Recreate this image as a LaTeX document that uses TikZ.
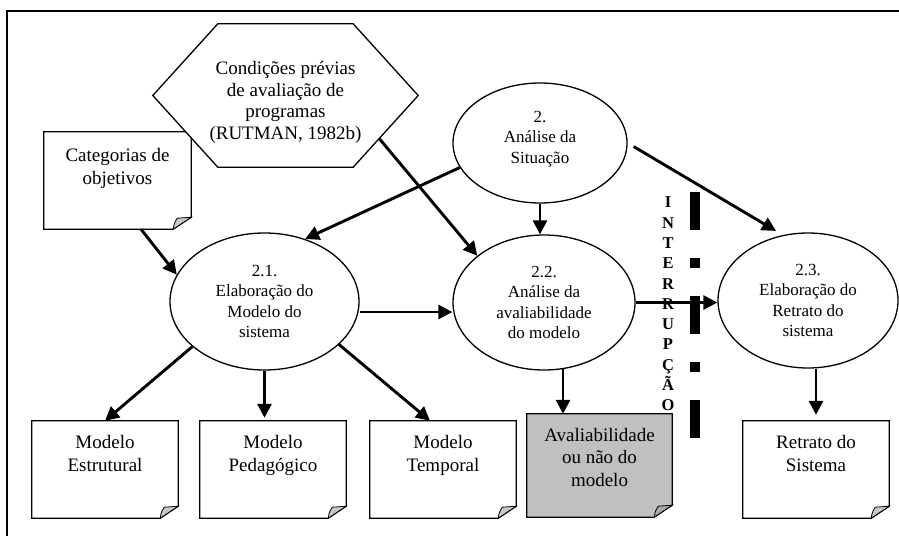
\documentclass[tikz,border=0pt]{standalone}
\usepackage{fontspec}
\setmainfont{Liberation Serif}
\usetikzlibrary{arrows.meta,shapes.geometric,calc}

\definecolor{flapgray}{HTML}{C8C8C8}
\definecolor{boxgray}{HTML}{C0C0C0}
\definecolor{flapdark}{HTML}{A8A8A8}

\tikzset{
  ell/.style={ellipse, draw, line width=1.3pt, fill=white, inner sep=0pt, align=center,
              font=\fontsize{17}{20.5}\selectfont},
  docbox/.style={rectangle, draw=none, inner sep=0pt, minimum width=146pt, minimum height=97pt},
  doctext/.style={anchor=north, inner sep=0pt, align=center, font=\fontsize{19}{23.5}\selectfont},
  arr/.style={line width=2.9pt, -{Triangle[length=14pt,width=14pt]}},
  outline/.style={line width=1.3pt, line join=miter},
}

% document shape with a folded lower-right corner
\newcommand{\foldeddoc}[3]{%
  \draw[outline, fill=#2] (#1.north west) -- (#1.north east) -- ([yshift=12pt]#1.south east)
     -- ([xshift=-18pt]#1.south east) -- (#1.south west) -- cycle;
  \draw[outline, line width=0.8pt, fill=#3] ([xshift=-18pt]#1.south east)
     .. controls ([xshift=-17pt,yshift=6pt]#1.south east) .. ([xshift=-14pt,yshift=11pt]#1.south east)
     -- ([yshift=12pt]#1.south east) -- cycle;
}

\begin{document}
\begin{tikzpicture}[x=1pt,y=-1pt]
\useasboundingbox (0,0) rectangle (899,536);

% frame
\draw[line width=2pt] (899,11) -- (7,11) -- (7,536);

% objectives box
\node[docbox, minimum width=147pt] (cat) at (117.5,180.5) {};
\foldeddoc{cat}{white}{flapgray}
\node[doctext] (catT) at ([yshift=-16pt]cat.north) {Categorias de\\objetivos};

% preconditions hexagon
\node[draw=none, inner sep=0pt, minimum width=265pt, minimum height=143pt] (hex) at (285.5,95.5) {};
\draw[outline, fill=white] (hex.west) -- ([xshift=65pt]hex.north west) -- ([xshift=-65pt]hex.north east)
  -- (hex.east) -- ([xshift=-65pt]hex.south east) -- ([xshift=65pt]hex.south west) -- cycle;
\node[inner sep=0pt, align=center, font=\fontsize{19}{21.5}\selectfont] (hexT) at ([yshift=-7pt]hex.center)
  {Condições prévias\\de avaliação de\\programas\\(RUTMAN, 1982b)};
\coordinate (hexout) at ($(hex.east)!0.6!([xshift=-65pt]hex.south east)$);

% process ellipses
\node[ell, minimum width=174pt, minimum height=120pt] (e2) at (540,143) {};
\node[inner sep=0pt, align=center, font=\fontsize{17}{20.5}\selectfont] (e2T) at ([yshift=4pt]e2.center) {2.\\Análise da\\Situação};
\node[ell, minimum width=189pt, minimum height=137pt] (e21) at (264.5,301.5) {2.1.\\Elaboração do\\Modelo do\\sistema};
\node[ell, minimum width=182pt, minimum height=135pt] (e22) at (544,302.5) {2.2.\\Análise da\\avaliabilidade\\do modelo};
\node[ell, minimum width=180pt, minimum height=135pt] (e23) at (808,300.5) {2.3.\\Elaboração do\\Retrato do\\sistema};

% output documents
\node[docbox] (est) at (105,469.5) {};
\foldeddoc{est}{white}{flapgray}
\node[doctext] (estT) at ([yshift=-14pt]est.north) {Modelo\\Estrutural};

\node[docbox] (ped) at (273,469.5) {};
\foldeddoc{ped}{white}{flapgray}
\node[doctext] (pedT) at ([yshift=-14pt]ped.north) {Modelo\\Pedagógico};

\node[docbox] (tmp) at (443,469.5) {};
\foldeddoc{tmp}{white}{flapgray}
\node[doctext] (tmpT) at ([yshift=-14pt]tmp.north) {Modelo\\Temporal};

\node[docbox, minimum width=145pt, minimum height=103pt] (aval) at (599.5,465.5) {};
\foldeddoc{aval}{boxgray}{flapdark}
\node[doctext, font=\fontsize{19}{22.5}\selectfont] (avalT) at ([yshift=-14pt]aval.north) {Avaliabilidade\\ou não do\\modelo};

\node[docbox] (ret) at (816,469.5) {};
\foldeddoc{ret}{white}{flapgray}
\node[doctext] (retT) at ([yshift=-14pt]ret.north) {Retrato do\\Sistema};

% connectors
\draw[arr] ([xshift=23.5pt]cat.south) -- (e21.163);
\draw[arr] (e2.197) -- (e21.57);
\draw[arr] (hexout) -- (e22.145);
\draw[arr] (e2.south) -- (e2.south |- e22.north);
\draw[arr, shorten <=7pt, shorten >=8pt] (e2.east) -- (e23.111);
\draw[arr] ([yshift=-10.5pt]e21.east) -- ([yshift=-10.5pt]e21.east -| e22.west);
\draw[arr] (e22.east) -- (e22.east -| e23.west);
\draw[arr] (e21.212) -- (est.north);
\draw[arr, shorten >=3pt] (e21.south) -- (e21.south |- ped.north);
\draw[arr] (e21.330) -- ([xshift=-13pt]tmp.north);
\draw[arr] ([xshift=19pt,yshift=2pt]e22.south) -- ([xshift=19pt]e22.south |- aval.north);
\draw[arr, shorten >=6pt] ([xshift=8pt]e23.south) -- ([xshift=8pt]e23.south |- ret.north);

% interruption marker
\coordinate (bartop) at (695,192);
\coordinate (barbot) at (695,441);
\draw[line width=10pt, dash pattern=on 38pt off 28pt on 10pt off 28pt] (bartop) -- (barbot);
\node[inner sep=0pt, align=center, font=\fontsize{16.5}{20.3}\selectfont\bfseries] (intr) at (668,304)
  {I\\N\\T\\E\\R\\R\\U\\P\\Ç\\Ã\\O};
\end{tikzpicture}
\end{document}
